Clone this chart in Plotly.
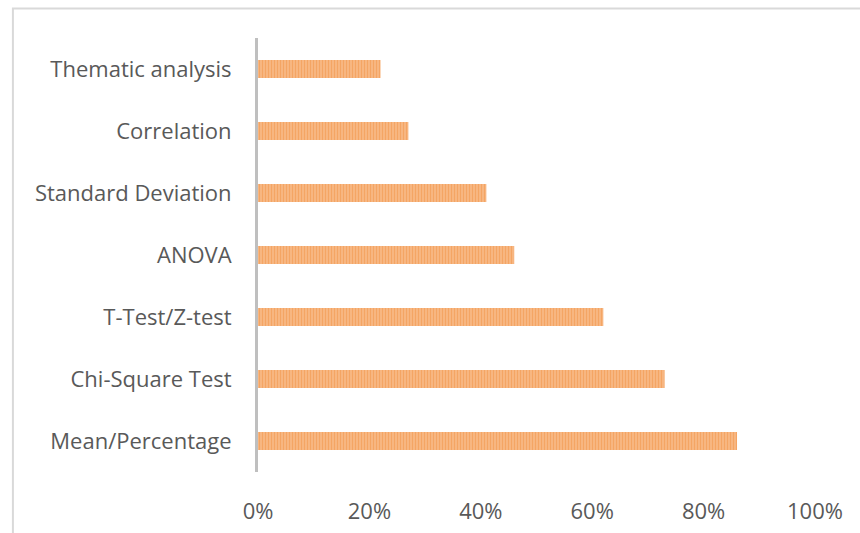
import plotly.graph_objects as go

# Share of studies using each analysis method
methods = [
    "Mean/Percentage",
    "Chi-Square Test",
    "T-Test/Z-test",
    "ANOVA",
    "Standard Deviation",
    "Correlation",
    "Thematic analysis",
]
shares = [0.86, 0.73, 0.62, 0.46, 0.41, 0.27, 0.22]
tick_vals = [0, 0.2, 0.4, 0.6, 0.8, 1.0]
tick_text = ["0%", "20%", "40%", "60%", "80%", "100%"]

text_color = "#595959"
font_family = "Open Sans, Noto Sans, sans-serif"
font_size = 22

fig = go.Figure(
    go.Bar(
        x=shares,
        y=methods,
        orientation="h",
        marker=dict(
            color="#F5A868",
            line=dict(width=0),
            pattern=dict(
                shape="|",
                fgcolor="#F08D3E",
                bgcolor="#F8BC8A",
                size=3,
                solidity=0.5,
            ),
        ),
        hoverinfo="x+y",
    )
)

fig.update_layout(
    width=860,
    height=533,
    margin=dict(l=258, r=45, t=38, b=61),
    paper_bgcolor="white",
    plot_bgcolor="white",
    bargap=0.71,
    showlegend=False,
    font=dict(family=font_family, size=font_size, color=text_color),
    xaxis=dict(
        range=[0, 1],
        tickvals=tick_vals,
        ticktext=tick_text,
        showgrid=False,
        zeroline=False,
        showline=False,
        ticks="",
        automargin=False,
        ticklabelstandoff=24,
        tickfont=dict(size=font_size, color=text_color),
    ),
    yaxis=dict(
        categoryorder="array",
        categoryarray=methods,
        showgrid=False,
        zeroline=False,
        showline=True,
        linecolor="#BFBFBF",
        linewidth=3,
        ticks="",
        automargin=False,
        ticklabelstandoff=19,
        tickfont=dict(size=font_size, color=text_color),
    ),
    shapes=[
        # chart frame, clipped by the page on the right and bottom
        dict(
            type="rect",
            xref="paper",
            yref="paper",
            x0=-0.44,
            x1=1.2,
            y0=-0.3,
            y1=1.068,
            line=dict(color="#D9D9D9", width=2),
            fillcolor="rgba(0,0,0,0)",
            layer="below",
        )
    ],
)

fig.write_html("out.html")
